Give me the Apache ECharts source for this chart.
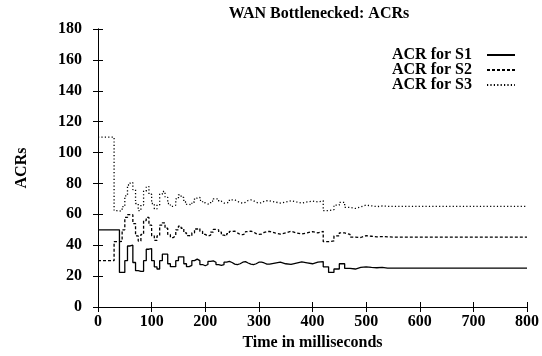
<!DOCTYPE html>
<html>
<head>
<meta charset="utf-8">
<script src="https://cdn.jsdelivr.net/npm/echarts@6/dist/echarts.min.js"></script>
<style>
  html, body { margin: 0; padding: 0; background: #fff; }
  #chart { width: 542px; height: 356px; }
</style>
</head>
<body>
<div id="chart"></div>
<script>
// Sample times (ms); each value holds from its time until the next sample.
const times = [
  0, 5, 10, 15, 20, 25, 30, 35, 40, 45, 50, 55, 60, 65, 70, 75, 80, 85, 90, 95,
  100, 105, 110, 115, 120, 125, 130, 135, 140, 145, 150, 155, 160, 165, 170, 175, 180, 185, 190, 195,
  200, 205, 210, 215, 220, 225, 230, 235, 240, 245, 250, 255, 260, 265, 270, 275, 280, 285, 290, 295,
  300, 305, 310, 315, 320, 330, 340, 350, 360, 370, 380, 390, 400, 410, 420, 430, 440, 450, 460, 470,
  480, 490, 500, 510, 520, 530, 540, 550, 560, 600, 650, 700, 750, 800
];

const acrS1 = [
  50, 50, 50, 50, 50, 50, 50, 50, 22.4, 22.4, 30, 39.5, 40, 28.8, 23.5, 23.1, 23.1, 30, 37.4, 37.8,
  30, 26, 24.6, 30, 34.2, 34.2, 28, 26.1, 26.1, 30, 32.5, 32.5, 28, 26.1, 27, 30, 31, 30, 27.5, 26.7,
  27.5, 29.5, 29.9, 29, 27.5, 27, 27.5, 29, 29.5, 28.8, 27.8, 27.4, 28, 29, 29.4, 28.5, 27.8, 27.4, 28, 29,
  29, 28.5, 27.8, 27.8, 28.4, 29, 28, 27.6, 28.4, 29.2, 28.6, 28, 29, 29.4, 26, 22.4, 24.6, 28, 25, 24.6,
  25.6, 26, 25.6, 25.4, 25.6, 25.2, 25.2, 25.2, 25.2, 25.2, 25.2, 25.2, 25.2, 25.2
];

const acrS2 = [
  30, 30, 30, 30, 30, 30, 42.3, 42.3, 42.5, 50, 58, 59.8, 59.8, 54, 46, 42.7, 47, 56, 58, 53,
  46, 43.2, 46, 53, 54.5, 51, 47, 44.9, 46, 50, 52.4, 51, 48, 46.2, 46, 48, 50.5, 50.9, 49, 47,
  46, 46.5, 48.5, 50.2, 50, 48.5, 46.5, 46, 47.5, 49, 49.1, 48, 47, 46.8, 47.5, 48.8, 49.1, 48.5, 47.5, 47,
  47.2, 48.3, 48.8, 49, 48, 47.2, 48, 49, 48, 47.3, 48, 48.8, 48, 49, 42.3, 42.8, 46, 48, 47, 45.3,
  45, 46.2, 45.8, 45.4, 45.6, 45.4, 45.3, 45.3, 45.3, 45.3, 45.3, 45.3, 45.3, 45.3
];

const acrS3 = [
  110, 110, 110, 110, 110, 110, 62.4, 62, 62.4, 65, 72, 79, 80.5, 76, 67, 62.4, 66, 75, 78, 73,
  67, 63.5, 66, 73, 74.8, 71, 67, 65.2, 66, 70, 72.6, 71, 68, 66.5, 66.2, 68, 70.5, 71, 69, 67.5,
  66.7, 67, 68.5, 70, 70, 68.5, 67.3, 67.3, 68, 69.4, 69.4, 68.5, 67.5, 67.3, 67.8, 69, 69.4, 68.8, 67.8, 67.3,
  67.5, 68.5, 68.8, 68.8, 68, 67.3, 68, 68.8, 68, 67.3, 68, 68.6, 68, 68.8, 62.4, 63, 66, 67.8, 64.5, 63.8,
  64.8, 66, 65.5, 65, 65.4, 65.2, 65.2, 65.2, 65.2, 65.2, 65.2, 65.2, 65.2, 65.2
];

const seriesNames = ['ACR for S1', 'ACR for S2', 'ACR for S3'];
const xTicks = { min: 0, max: 800, interval: 100 };
const yTicks = { min: 0, max: 180, interval: 20 };

const FONT = '"Liberation Serif", "Times New Roman", serif';
const INK = '#000';

function pairs(values) {
  return times.map((t, i) => [t, values[i]]);
}

const textBase = { fontFamily: FONT, fontWeight: 'bold', fontSize: 16, color: '#000' };

const chart = echarts.init(document.getElementById('chart'), null, { renderer: 'canvas' });

const lineStyles = [
  { color: INK, width: 1.3, type: 'solid' },
  { color: INK, width: 1.3, type: [3, 2] },
  { color: INK, width: 1.3, type: [1.2, 2.2] }
];

chart.setOption({
  animation: false,
  backgroundColor: '#fff',
  title: {
    text: 'WAN Bottlenecked: ACRs',
    left: 314,
    textAlign: 'center',
    top: 1,
    textStyle: textBase
  },
  legend: {
    orient: 'vertical',
    right: 21,
    top: 42,
    align: 'right',
    itemWidth: 28,
    itemHeight: 12,
    itemGap: -1,
    data: seriesNames,
    itemStyle: { opacity: 0 },
    textStyle: Object.assign({}, textBase, { lineHeight: 14, padding: [0, 10, 0, 0] })
  },
  grid: { left: 98, right: 12, top: 29, bottom: 46 },
  xAxis: [
    {
      type: 'value', position: 'bottom',
      min: xTicks.min, max: xTicks.max, interval: xTicks.interval,
      name: 'Time in milliseconds', nameLocation: 'middle', nameGap: 28,
      nameTextStyle: textBase,
      axisLine: { lineStyle: { color: '#000', width: 1 } },
      axisTick: { inside: true, length: 5, lineStyle: { color: '#000' } },
      axisLabel: Object.assign({ margin: 7 }, textBase),
      splitLine: { show: false }
    },
    {
      type: 'value', position: 'top',
      min: xTicks.min, max: xTicks.max, interval: xTicks.interval,
      axisLine: { lineStyle: { color: '#000', width: 1 } },
      axisTick: { inside: true, length: 5, lineStyle: { color: '#000' } },
      axisLabel: { show: false },
      splitLine: { show: false }
    }
  ],
  yAxis: [
    {
      type: 'value', position: 'left',
      min: yTicks.min, max: yTicks.max, interval: yTicks.interval,
      name: 'ACRs', nameLocation: 'middle', nameGap: 68,
      nameTextStyle: textBase,
      axisLine: { show: true, lineStyle: { color: '#000', width: 1 } },
      axisTick: { show: true, inside: true, length: 5, lineStyle: { color: '#000' } },
      axisLabel: Object.assign({ margin: 16 }, textBase),
      splitLine: { show: false }
    },
    {
      type: 'value', position: 'right',
      min: yTicks.min, max: yTicks.max, interval: yTicks.interval,
      axisLine: { show: true, lineStyle: { color: '#000', width: 1 } },
      axisTick: { show: true, inside: true, length: 5, lineStyle: { color: '#000' } },
      axisLabel: { show: false },
      splitLine: { show: false }
    }
  ],
  series: [acrS1, acrS2, acrS3].map((vals, i) => ({
    name: seriesNames[i],
    type: 'line',
    step: 'end',
    symbol: 'none',
    xAxisIndex: 0,
    yAxisIndex: 0,
    data: pairs(vals),
    lineStyle: lineStyles[i],
    itemStyle: { color: INK }
  }))
});
</script>
</body>
</html>
